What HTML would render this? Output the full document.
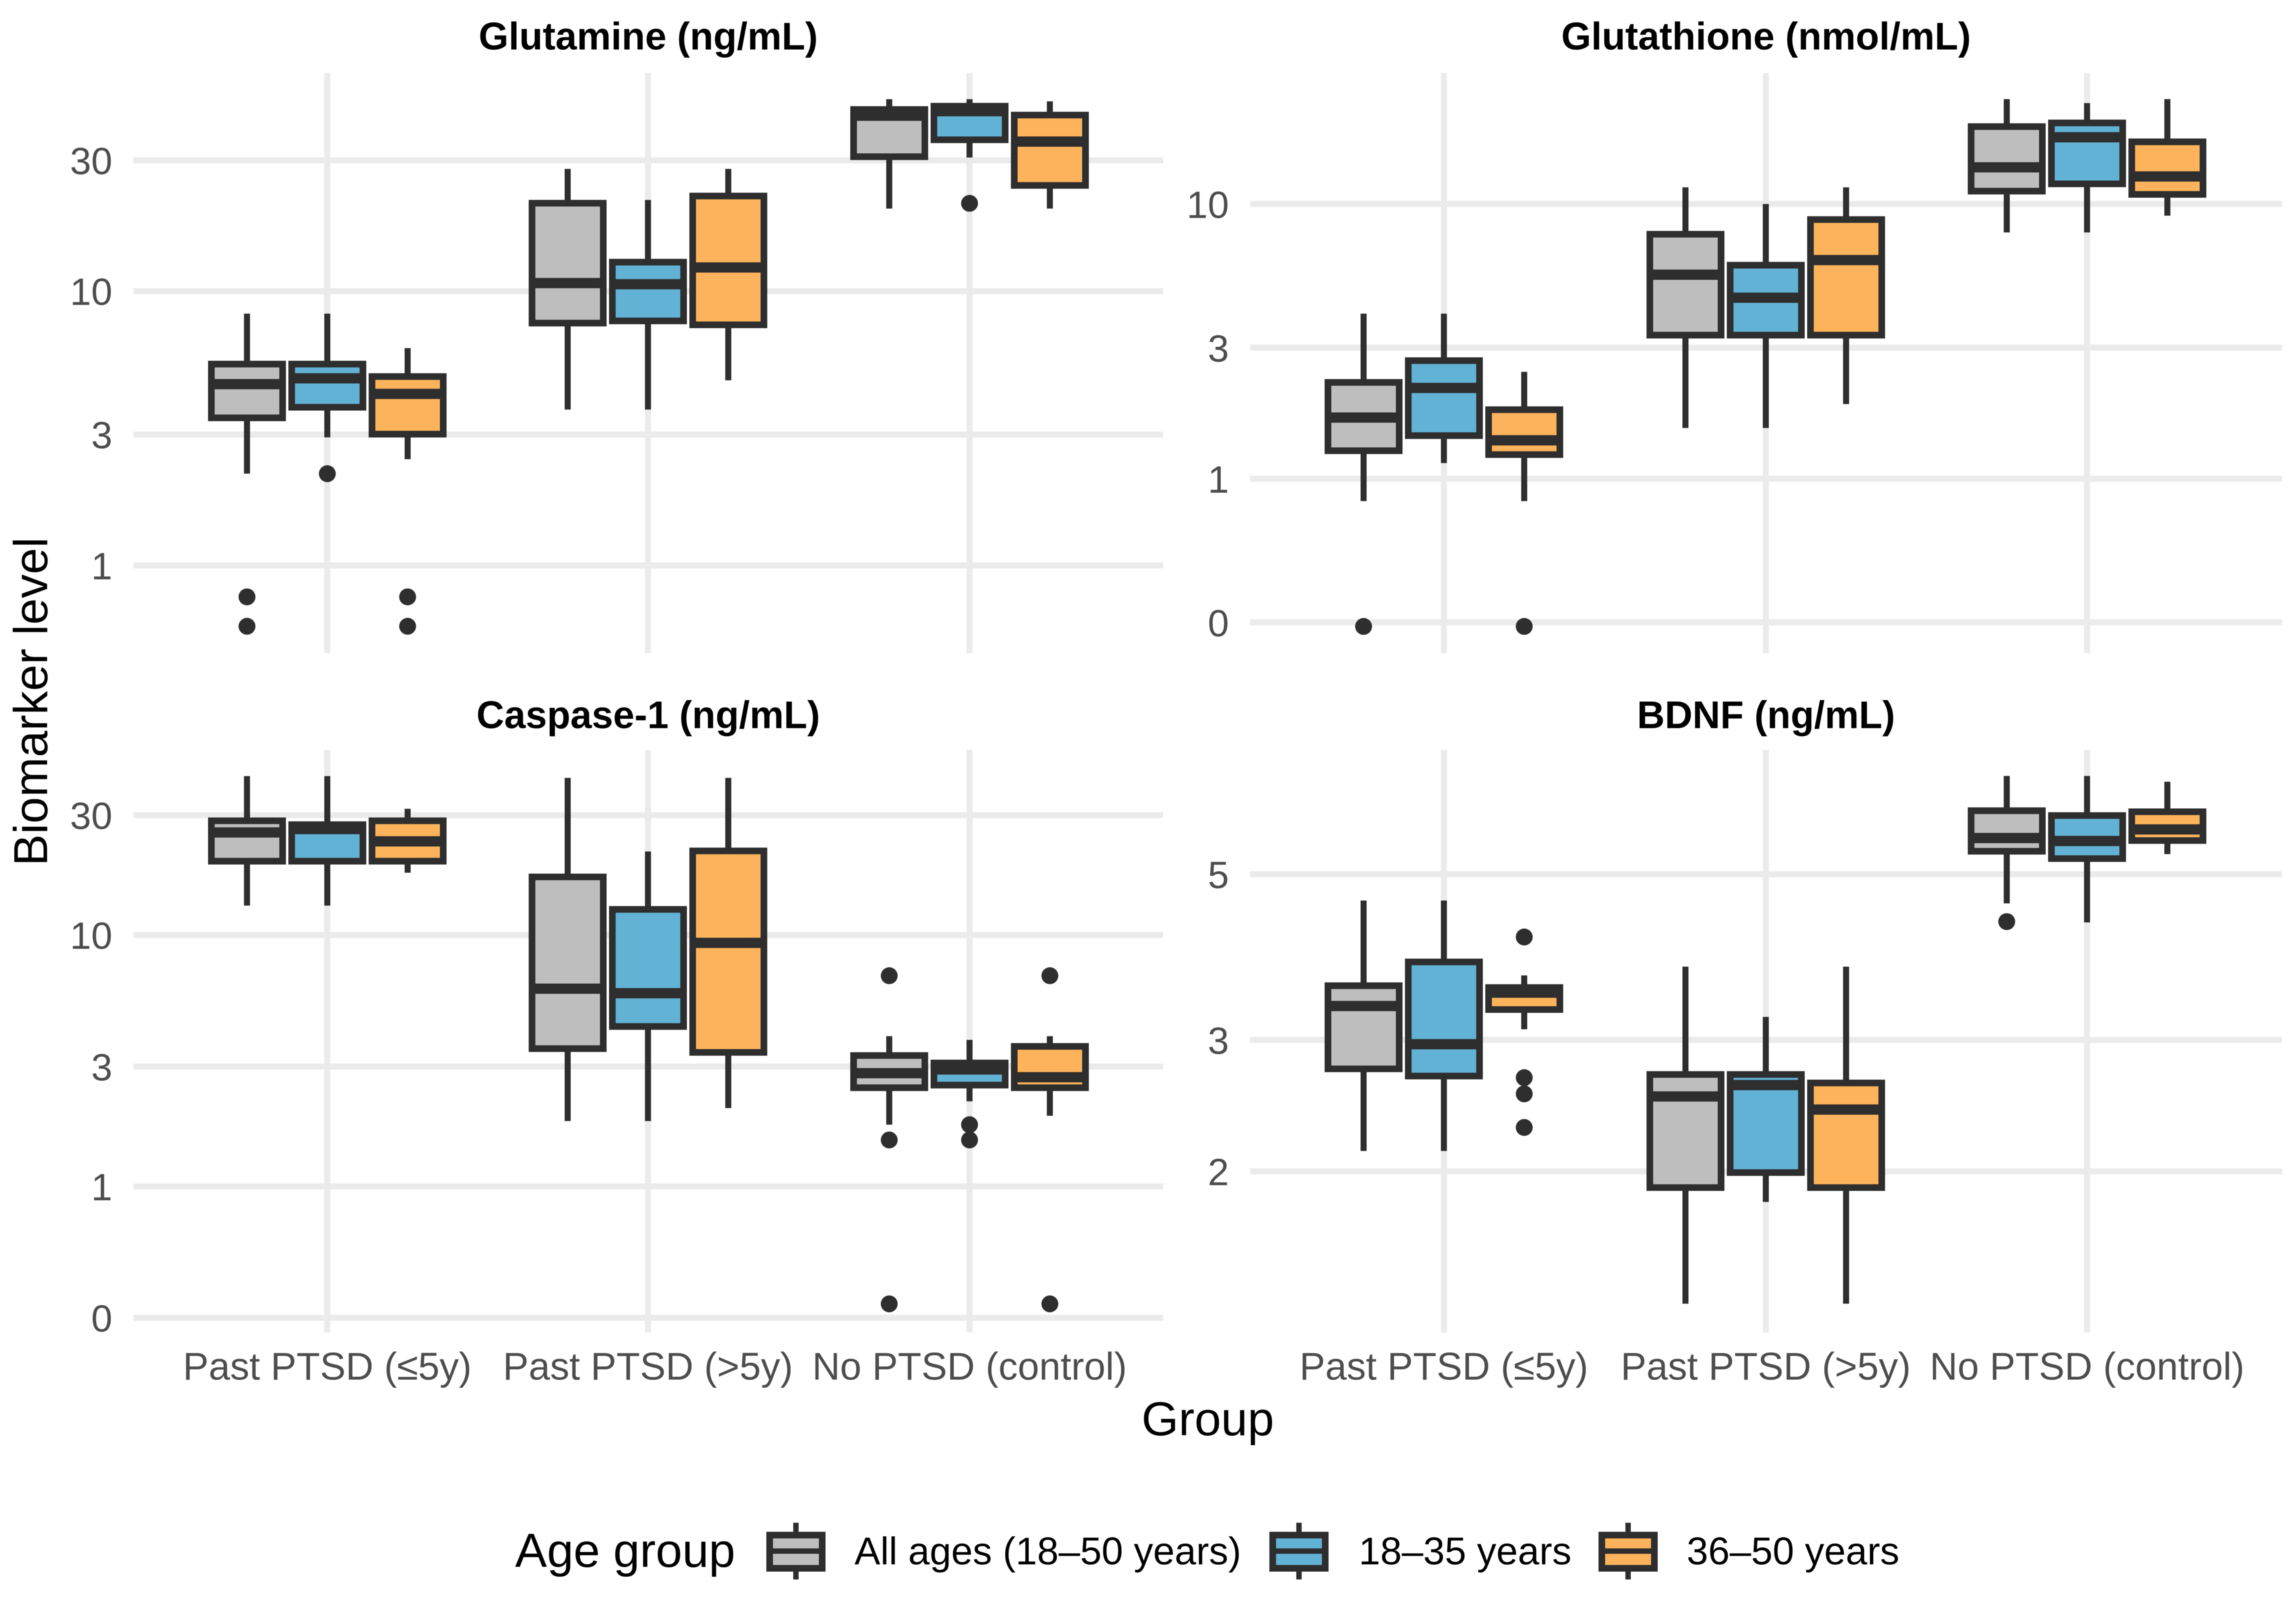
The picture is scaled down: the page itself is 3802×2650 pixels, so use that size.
<!DOCTYPE html>
<html lang="en">
<head>
<meta charset="utf-8">
<title>Biomarker levels by group and age</title>
<style>
html,body{margin:0;padding:0;background:#fff;}
svg{display:block;font-family:"Liberation Sans",sans-serif;filter:blur(0.7px);}
</style>
</head>
<body>
<svg id="chart" xmlns="http://www.w3.org/2000/svg" width="3802" height="2650" viewBox="0 0 3802 2650">
  <rect x="0" y="0" width="3802" height="2650" fill="#ffffff"/>
  <text transform="translate(78,1162) rotate(-90)" text-anchor="middle" font-size="79" fill="#000">Biomarker level</text>
  <text x="2000" y="2377" text-anchor="middle" font-size="79" fill="#000">Group</text>
  <g>
    <text x="853" y="2595" font-size="79" fill="#000">Age group</text>
    <g>
      <line x1="1318" x2="1318" y1="2522" y2="2616" stroke="#2e2e2e" stroke-width="9"/>
      <rect x="1274.5" y="2542.5" width="87" height="55" fill="#BEBEBE" stroke="#2e2e2e" stroke-width="11"/>
      <line x1="1274" x2="1362" y1="2569" y2="2569" stroke="#2e2e2e" stroke-width="9"/>
    </g>
    <text x="1415" y="2591" font-size="64" fill="#000">All ages (18–50 years)</text>
    <g>
      <line x1="2151" x2="2151" y1="2522" y2="2616" stroke="#2e2e2e" stroke-width="9"/>
      <rect x="2107.5" y="2542.5" width="87" height="55" fill="#62B2D5" stroke="#2e2e2e" stroke-width="11"/>
      <line x1="2107" x2="2195" y1="2569" y2="2569" stroke="#2e2e2e" stroke-width="9"/>
    </g>
    <text x="2250" y="2591" font-size="64" fill="#000">18–35 years</text>
    <g>
      <line x1="2696" x2="2696" y1="2522" y2="2616" stroke="#2e2e2e" stroke-width="9"/>
      <rect x="2652.5" y="2542.5" width="87" height="55" fill="#FDB35B" stroke="#2e2e2e" stroke-width="11"/>
      <line x1="2652" x2="2740" y1="2569" y2="2569" stroke="#2e2e2e" stroke-width="9"/>
    </g>
    <text x="2793" y="2591" font-size="64" fill="#000">36–50 years</text>
  </g>
</svg>
<script>
// ---- Shared categories ----
const categories = ["Past PTSD (≤5y)", "Past PTSD (>5y)", "No PTSD (control)"];
const ageGroups = ["all-ages", "18-35", "36-50"];

// ---- Glutamine (each array: 3 ages × 3 groups, in group order) ----
const glutamineTicks = [1, 3, 10, 30];
const glutamineTickLabels = ["1", "3", "10", "30"];
const glutamineHigh   = [8.28, 8.28, 6.20, 27.9, 21.5, 27.9, 50.1, 50.1, 49.2];
const glutamineQ3     = [5.44, 5.44, 4.90, 21.0, 12.8, 22.3, 46.1, 47.4, 44.0];
const glutamineMedian = [4.58, 4.81, 4.22, 10.7, 10.6, 12.2, 43.6, 45.3, 35.1];
const glutamineQ1     = [3.44, 3.76, 3.00, 7.62, 7.76, 7.51, 30.8, 35.5, 24.2];
const glutamineLow    = [2.16, 2.93, 2.44, 3.70, 3.70, 4.73, 20.0, 30.7, 20.0];
const glutamineOutliers = [[0.768, 0.600], [2.16], [0.768, 0.600], [], [], [], [], [20.9], []];

// ---- Glutathione ----
const glutathioneTicks = [0.3, 1, 3, 10];
const glutathioneTickLabels = ["0", "1", "3", "10"];
const glutathioneHigh   = [3.99, 3.99, 2.45, 11.5, 10.0, 11.5, 24.1, 23.3, 24.1];
const glutathioneQ3     = [2.25, 2.70, 1.79, 7.79, 6.01, 8.81, 19.2, 19.8, 16.9];
const glutathioneMedian = [1.67, 2.14, 1.38, 5.53, 4.56, 6.25, 13.6, 17.5, 12.6];
const glutathioneQ1     = [1.26, 1.43, 1.22, 3.32, 3.32, 3.32, 11.1, 11.8, 10.8];
const glutathioneLow    = [0.829, 1.14, 0.829, 1.53, 1.53, 1.87, 7.88, 7.88, 9.07];
const glutathioneOutliers = [[0.290], [], [0.290], [], [], [], [], [], []];

// ---- Caspase-1 ----
const caspaseTicks = [0.3, 1, 3, 10, 30];
const caspaseTickLabels = ["0", "1", "3", "10", "30"];
const caspaseHigh   = [42.9, 42.9, 31.8, 42.2, 21.5, 42.2, 3.96, 3.83, 3.96];
const caspaseQ3     = [28.6, 27.6, 28.6, 17.1, 12.7, 21.7, 3.33, 3.11, 3.62];
const caspaseMedian = [25.6, 26.4, 23.6, 6.12, 5.87, 9.31, 2.82, 2.92, 2.72];
const caspaseQ1     = [19.6, 19.6, 19.6, 3.52, 4.31, 3.40, 2.46, 2.52, 2.46];
const caspaseLow    = [13.1, 13.1, 17.7, 1.82, 1.82, 2.05, 1.76, 2.18, 1.91];
const caspaseOutliers = [[], [], [], [], [], [], [6.89, 1.53, 0.341], [1.76, 1.53], [6.89, 0.341]];

// ---- BDNF ----
const bdnfTicks = [2, 3, 5];
const bdnfTickLabels = ["2", "3", "5"];
const bdnfHigh   = [4.61, 4.61, 3.66, 3.76, 3.22, 3.76, 6.77, 6.77, 6.65];
const bdnfQ3     = [3.55, 3.82, 3.53, 2.70, 2.70, 2.63, 6.09, 6.00, 6.07];
const bdnfMedian = [3.33, 2.96, 3.47, 2.52, 2.61, 2.42, 5.59, 5.54, 5.74];
const bdnfQ1     = [2.74, 2.68, 3.29, 1.90, 1.99, 1.90, 5.36, 5.24, 5.54];
const bdnfLow    = [2.13, 2.13, 3.10, 1.33, 1.82, 1.33, 4.57, 4.31, 5.32];
const bdnfOutliers = [[], [], [4.12, 2.67, 2.54, 2.29], [], [], [], [4.32], [], []];

// ---- Rendering ----
const SVG_NS = "http://www.w3.org/2000/svg";
const svg = document.getElementById("chart");
const GRID = "#EBEBEB", INK = "#2e2e2e", AXIS_TEXT = "#4D4D4D";
const FILLS = ["#BEBEBE", "#62B2D5", "#FDB35B"];

function make(tag, attrs, parent) {
  const el = document.createElementNS(SVG_NS, tag);
  for (const k in attrs) el.setAttribute(k, attrs[k]);
  parent.appendChild(el);
  return el;
}

function drawPanel(p) {
  const yScale = v => p.refPixel - Math.log10(v / p.refValue) * p.pxPerDecade;
  const xScale = (groupIndex, ageIndex) => p.groupCentres[groupIndex] + (ageIndex === undefined ? 0 : (ageIndex - 1) * 133);

  const panel = make("g", {}, svg);
  
  

  const title = make("text", {x: (p.left + p.right) / 2, y: p.titleY, "text-anchor": "middle", "font-size": 63.6, "font-weight": "bold", fill: "#000"}, panel);
  
  
  title.textContent = p.title;

  p.ticks.forEach((t, i) => {
    const y = yScale(t);
    const grid = make("line", {x1: p.left, x2: p.right, y1: y, y2: y, stroke: GRID, "stroke-width": 10}, panel);
    
    
    const label = make("text", {x: p.left - 35, y: y + 23, "text-anchor": "end", "font-size": 63, fill: AXIS_TEXT}, panel);
    
    
    label.textContent = p.tickLabels[i];
  });

  categories.forEach((c, g) => {
    const x = xScale(g);
    const grid = make("line", {x1: x, x2: x, y1: p.top, y2: p.bottom, stroke: GRID, "stroke-width": 10}, panel);
    
    
    if (p.showX) {
      const label = make("text", {x: x, y: 2285, "text-anchor": "middle", "font-size": 63.8, fill: AXIS_TEXT}, panel);
      
      
      label.textContent = c;
    }
  });

  categories.forEach((c, g) => {
    ageGroups.forEach((a, s) => {
      const i = g * 3 + s;
      const cx = xScale(g, s);
      const box = make("g", {}, panel);
      
      

      make("line", {x1: cx, x2: cx, y1: yScale(p.high[i]), y2: yScale(p.q3[i]), stroke: INK, "stroke-width": 10}, box);
      make("line", {x1: cx, x2: cx, y1: yScale(p.q1[i]), y2: yScale(p.low[i]), stroke: INK, "stroke-width": 10}, box);
      make("rect", {x: cx - 59, y: yScale(p.q3[i]) + 0.7, width: 118, height: yScale(p.q1[i]) - yScale(p.q3[i]) - 1.4, fill: FILLS[s], stroke: INK, "stroke-width": 11}, box);
      make("line", {x1: cx - 59, x2: cx + 59, y1: yScale(p.median[i]), y2: yScale(p.median[i]), stroke: INK, "stroke-width": 17}, box);
      p.outliers[i].forEach(v => {
        const dot = make("circle", {cx: cx, cy: yScale(v), r: 14, fill: INK}, box);
        
        
      });
    });
  });
}

drawPanel({id: "glutamine", title: "Glutamine (ng/mL)", titleY: 82, left: 221, right: 1926, top: 121, bottom: 1082,
  groupCentres: [542, 1073, 1605.5], refValue: 1, refPixel: 936.5, pxPerDecade: 454.3, showX: false,
  ticks: glutamineTicks, tickLabels: glutamineTickLabels, high: glutamineHigh, q3: glutamineQ3, median: glutamineMedian, q1: glutamineQ1, low: glutamineLow, outliers: glutamineOutliers});

drawPanel({id: "glutathione", title: "Glutathione (nmol/mL)", titleY: 82, left: 2070, right: 3779, top: 121, bottom: 1082,
  groupCentres: [2391, 2924, 3456], refValue: 1, refPixel: 792.9, pxPerDecade: 455, showX: false,
  ticks: glutathioneTicks, tickLabels: glutathioneTickLabels, high: glutathioneHigh, q3: glutathioneQ3, median: glutathioneMedian, q1: glutathioneQ1, low: glutathioneLow, outliers: glutathioneOutliers});

drawPanel({id: "caspase-1", title: "Caspase-1 (ng/mL)", titleY: 1206, left: 221, right: 1926, top: 1242, bottom: 2207,
  groupCentres: [542, 1073, 1605.5], refValue: 1, refPixel: 1965, pxPerDecade: 416.3, showX: true,
  ticks: caspaseTicks, tickLabels: caspaseTickLabels, high: caspaseHigh, q3: caspaseQ3, median: caspaseMedian, q1: caspaseQ1, low: caspaseLow, outliers: caspaseOutliers});

drawPanel({id: "bdnf", title: "BDNF (ng/mL)", titleY: 1206, left: 2070, right: 3779, top: 1242, bottom: 2207,
  groupCentres: [2391, 2924, 3456], refValue: 3, refPixel: 1722.3, pxPerDecade: 1236.7, showX: true,
  ticks: bdnfTicks, tickLabels: bdnfTickLabels, high: bdnfHigh, q3: bdnfQ3, median: bdnfMedian, q1: bdnfQ1, low: bdnfLow, outliers: bdnfOutliers});
</script>
</body>
</html>
